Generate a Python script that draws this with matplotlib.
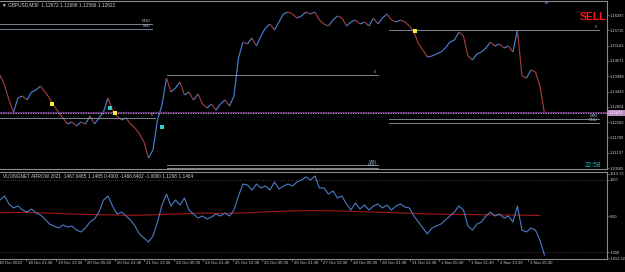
import matplotlib
matplotlib.use("Agg")
import numpy as np
import matplotlib.pyplot as plt
from matplotlib.collections import LineCollection
from matplotlib.patches import Rectangle
from matplotlib.transforms import blended_transform_factory

plt.rcParams["font.family"] = ["Liberation Sans", "DejaVu Sans"]

# ---------------- data ----------------
header = "\u25BC GBPUSD,M30  1.12672 1.12698 1.12566 1.12622"
ind_header = "VUONGNET ARROW 2021  1467.0485 1.1485 0.4003 -1466.6402 -1.0000 1.1298 1.1464"

close = [1.14043, 1.13669, 1.13108, 1.12659, 1.13183, 1.13258, 1.13108, 1.13407, 1.13482, 1.13632,
         1.13407, 1.13183, 1.12884, 1.12659, 1.12435, 1.12211, 1.12285, 1.12136, 1.12285, 1.12211,
         1.12510, 1.12211, 1.12435, 1.12659, 1.13183, 1.12734, 1.12510, 1.12360, 1.12435, 1.12211,
         1.12061, 1.11837, 1.11537, 1.10939, 1.11238, 1.12360, 1.12921, 1.13931, 1.13407, 1.13557,
         1.13781, 1.13295, 1.13407, 1.13108, 1.13333, 1.12959, 1.12809, 1.12959, 1.12734, 1.12959,
         1.13108, 1.12884, 1.13258, 1.14679, 1.15277, 1.15203, 1.15427, 1.15128, 1.15502, 1.15801,
         1.15951, 1.15726, 1.16025, 1.16325, 1.16399, 1.16325, 1.16175, 1.16250, 1.16399, 1.16325,
         1.16399, 1.16100, 1.15951, 1.15876, 1.16100, 1.16250, 1.16175, 1.15876, 1.16025, 1.16100,
         1.15951, 1.16025, 1.15876, 1.16175, 1.15951, 1.16175, 1.16325, 1.16100, 1.16025, 1.16100,
         1.16025, 1.15876, 1.15651, 1.15203, 1.14978, 1.14716, 1.14754, 1.14829, 1.14903, 1.15053,
         1.15277, 1.15352, 1.15651, 1.15502, 1.14754, 1.14604, 1.14829, 1.14903, 1.15053, 1.15277,
         1.15128, 1.15203, 1.15053, 1.15128, 1.14903, 1.15726, 1.14006, 1.13931, 1.14230, 1.14155,
         1.13632, 1.12622]

osc = [441, 552, 331, 221, 276, 166, 110, 193, 83, 28,
       -83, -221, -276, -331, -248, -303, -276, -386, -441, -331,
       -166, -83, 110, 441, 552, 276, 55, 110, 0, -110,
       -276, -497, -607, -717, -552, -166, 303, 607, 276, 441,
       303, 497, 166, 55, -55, 0, -83, -28, 55, 0,
       83, 0, 166, 552, 883, 855, 717, 883, 772, 828,
       717, 938, 745, 828, 883, 828, 938, 993, 1076, 993,
       1104, 772, 772, 607, 690, 497, 552, 331, 166, 359,
       193, 303, 166, 276, 331, 221, 303, 166, 276, 331,
       248, 221, 0, -166, -331, -497, -331, -276, -221, -110,
       0, 110, 276, 166, -276, -386, -221, -166, 0, 110,
       0, 55, -55, 0, -166, 276, -386, -441, -331, -386,
       -662, -1076]

signal = [90, 100, 85, 60, 40, 30, 20, 35, 60, 80, 70, 90, 120, 140, 150,
          140, 120, 100, 80, 60, 45, 40, 30, 25, 15]

time_labels = ["18 Oct 2022", "18 Oct 21:30", "19 Oct 13:30", "20 Oct 05:30", "20 Oct 21:30",
               "21 Oct 13:30", "24 Oct 05:30", "24 Oct 21:30", "25 Oct 13:30", "26 Oct 05:30",
               "26 Oct 21:30", "27 Oct 13:30", "28 Oct 05:30", "28 Oct 21:30", "31 Oct 13:30",
               "1 Nov 05:30", "1 Nov 21:30", "2 Nov 13:30", "3 Nov 05:30"]

price_ticks = [1.16287, 1.15715, 1.15143, 1.14571, 1.13998, 1.13426, 1.12854,
               1.12282, 1.11709, 1.11137, 1.10565]
ind_ticks = [1159, 1000, 0, -1000, -1159]
ind_tick_labels = ["1613.73", "1000", "0.00", "-1000", "-1613.52"]

# levels: (price, bar_start, bar_end, label)
levels = [(1.15951, 3.8, 168.7, "END"), (1.15764, 3.8, 168.7, "MID"),
          (1.12435, 3.8, 171.9, "0"),
          (1.14043, 184.9, 413.8, "0"),
          (1.10677, 184.9, 413.8, "MIN"), (1.10565, 184.9, 413.8, "END"),
          (1.15726, 425.7, 653.5, "0"),
          (1.12398, 425.7, 653.5, "MIN"), (1.12248, 425.7, 653.5, "END")]

yellow_bars = [60.2, 128.5, 453.9]
yellow_prices = [1.12959, 1.12622, 1.15689]
cyan_bars = [123.1, 179.5]
cyan_prices = [1.12809, 1.12098]

bid = 1.12622
ask = 1.12678

# ---------------- figure ----------------
W, H = 625, 272
fig = plt.figure(figsize=(6.25, 2.72), dpi=100, facecolor="black")


def rect(x0, y0, x1, y1):
    return [x0 / W, 1 - y1 / H, (x1 - x0) / W, (y1 - y0) / H]


ax = fig.add_axes(rect(0, 1, 607, 169))
ax2 = fig.add_axes(rect(0, 172, 607, 259))

PXB = 0.922
X0 = -3.5
xl = ((0 - X0) / PXB, (607 - X0) / PXB)

grey = "#8a8a8a"
txtc = "#d0d0d0"
for a in (ax, ax2):
    a.set_facecolor("black")
    a.set_xlim(*xl)
    for s in ("top", "bottom", "right"):
        a.spines[s].set_color(grey)
        a.spines[s].set_linewidth(0.8)
    a.spines["left"].set_visible(False)
    a.set_xticks([])
    a.yaxis.tick_right()
    a.tick_params(axis="y", colors=grey, labelcolor=txtc, labelsize=2.9,
                  length=1.5, width=0.5, pad=0.6)

ax.set_ylim(1.10528, 1.16811)
ax2.set_ylim(-1186, 1214)

# price line coloured by direction
px = 3.8 + 4.88 * np.arange(len(close))
cl = np.array(close)
segs = np.stack([np.column_stack([px[:-1], cl[:-1]]),
                 np.column_stack([px[1:], cl[1:]])], axis=1)
cols = ["#4a7fd0" if cl[i + 1] >= cl[i] else "#a03c3c" for i in range(len(cl) - 1)]
ax.add_collection(LineCollection(segs, colors=cols, linewidths=0.85))

# levels
for p, b0, b1, lab in levels:
    ax.plot([b0, b1], [p, p], color="#8e9aa6", lw=0.6)
    ax.text(b1 - 2, p + 0.0002, lab, color="#9ab4cc", fontsize=3.0,
            ha="right", va="bottom")

# current price lines
ax.axhline(ask, color="#6a2a80", lw=0.8)
ax.axhline(bid, color="#cfcfcf", lw=0.6, ls=(0, (1.5, 1.5)))

# arrows
ax.plot(yellow_bars, yellow_prices, "s", color="#f2f030", ms=2.6, mew=0)
ax.plot(cyan_bars, cyan_prices, "s", color="#30d0c8", ms=2.6, mew=0)
ax.plot([(546 - X0) / PXB], [1.16780], "o", color="#7030a0", ms=2.5, mew=0, clip_on=False)

ax.set_yticks(price_ticks)
ax.set_yticklabels([f"{t:.5f}" for t in price_ticks])

# indicator
ox = 3.8 + 4.88 * np.arange(len(osc))
sx = 3.8 + 24.4 * np.arange(len(signal))
ax2.plot(sx, signal, color="#a01818", lw=0.8)
ax2.plot(ox, osc, color="#4a7cc8", lw=0.8)
for lv in (1000, -1000):
    ax2.axhline(lv, color="#707070", lw=0.5, ls=(0, (1, 2)))
ax2.set_yticks(ind_ticks)
ax2.set_yticklabels(ind_tick_labels)

# time axis
tr = blended_transform_factory(ax2.transData, ax2.transAxes)
for k, lab in enumerate(time_labels):
    b = 32 * k
    ax2.plot([b, b], [0, -0.025], color=grey, lw=0.5, transform=tr, clip_on=False)
    ax2.text(b + 2 / PXB, -0.048, lab, transform=tr, color=txtc, fontsize=3.1,
             ha="left", va="center", clip_on=False)

# texts
fig.text(2 / W, 1 - 5 / H, header, color=txtc, fontsize=3.4, ha="left", va="center")
fig.text(3 / W, 1 - 177 / H, ind_header, color=txtc, fontsize=3.4, ha="left", va="center")
fig.text(593 / W, 1 - 16.5 / H, "SELL", color="#ff1414", fontsize=7.5, fontweight="bold",
         ha="center", va="center")
fig.text(593 / W, 1 - 165.5 / H, "22:58", color="#22b4a4", fontsize=4.8,
         ha="center", va="center")

# bid price box
fig.add_artist(Rectangle((607 / W, 1 - 116.5 / H), 18 / W, 6 / H,
                         transform=fig.transFigure, facecolor="#b88cc0", edgecolor="none"))
fig.text(609 / W, 1 - 113.3 / H, f"{bid:.5f}", color="white", fontsize=2.9,
         ha="left", va="center")

fig.savefig("out.png", dpi=100, facecolor="black")
